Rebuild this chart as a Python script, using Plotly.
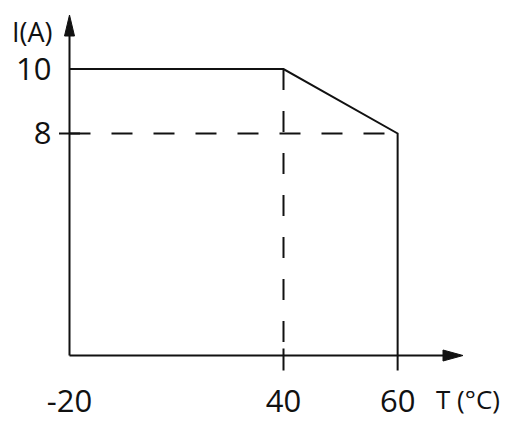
import numpy as np
import plotly.graph_objects as go

# ---------------------------------------------------------
#  derating curve  I(A) vs T(°C)
# ---------------------------------------------------------
T_C = [-20, 40, 60]          # ambient temperature
I_A = [10, 10, 8]            # allowed current
T_KNEE = 40                  # start of derating
I_MIN = 8                    # current at max temperature
X_TICKS = [-20, 40, 60]
Y_TICKS = [8, 10]
X_TITLE = "T (°C)"
Y_TITLE = "I(A)"

# the drawing is schematic: tick spacing is not linear,
# so values are placed on the axes through these anchors
T_ANCHOR, T_DRAW = [-20, 40, 60], [0, 60, 92]
I_ANCHOR, I_DRAW = [0, 8, 10], [0, 8, 10.32]

def sx(t):
    return np.interp(t, T_ANCHOR, T_DRAW)

def sy(i):
    return np.interp(i, I_ANCHOR, I_DRAW)

# page body keeps its default 8px margin -> figure sits at (8, 8)
OFF = 8
W, H = 508 - OFF, 426 - OFF
PX_X = 214 / 60      # px per drawing unit, x
PX_Y = 27.75         # px per drawing unit, y
X0_PX, Y0_PX = 69.5 - OFF, 355.5 - OFF
X_RANGE = [-X0_PX / PX_X, (W - X0_PX) / PX_X]
Y_RANGE = [-(H - Y0_PX) / PX_Y, Y0_PX / PX_Y]

X_TIP = (463 - OFF - X0_PX) / PX_X
Y_TIP = (Y0_PX - (15 - OFF)) / PX_Y
TICK_DOWN = 15 / PX_Y
TICK_UP = 7 / PX_Y
YTICK_HALF = 10.5 / PX_X

FONT = "Open Sans, Lato, sans-serif"
INK = "#111111"
LW = 2
DASH = "21px,21px"

fig = go.Figure()

# axes
fig.add_trace(go.Scatter(x=[0, X_TIP - 4], y=[0, 0], mode="lines",
                         line=dict(color=INK, width=LW)))
fig.add_trace(go.Scatter(x=[0, 0], y=[0, Y_TIP - 0.5], mode="lines",
                         line=dict(color=INK, width=LW)))
# arrow heads
hx, hw = 20 / PX_X, 5.5 / PX_Y
fig.add_trace(go.Scatter(x=[X_TIP, X_TIP - hx, X_TIP - hx, X_TIP],
                         y=[0, hw, -hw, 0], mode="lines", fill="toself",
                         fillcolor=INK, line=dict(color=INK, width=1)))
hy, hv = 21 / PX_Y, 5 / PX_X
fig.add_trace(go.Scatter(x=[0, -hv, hv, 0],
                         y=[Y_TIP, Y_TIP - hy, Y_TIP - hy, Y_TIP], mode="lines",
                         fill="toself", fillcolor=INK, line=dict(color=INK, width=1)))

# tick marks crossing the axes
fig.add_trace(go.Scatter(x=[sx(T_KNEE), sx(T_KNEE)], y=[TICK_UP, -TICK_DOWN],
                         mode="lines", line=dict(color=INK, width=LW)))
fig.add_trace(go.Scatter(x=[-YTICK_HALF, YTICK_HALF], y=[sy(I_MIN), sy(I_MIN)],
                         mode="lines", line=dict(color=INK, width=LW)))

# dashed guides
fig.add_trace(go.Scatter(x=[sx(T_C[0]), sx(T_C[-1])], y=[sy(I_MIN), sy(I_MIN)],
                         mode="lines", line=dict(color=INK, width=LW, dash=DASH)))
fig.add_trace(go.Scatter(x=[sx(T_KNEE), sx(T_KNEE)], y=[sy(max(I_A)), 0],
                         mode="lines", line=dict(color=INK, width=LW, dash=DASH)))

# derating curve, closed down to the axis at max temperature
cx = list(sx(T_C)) + [sx(T_C[-1])]
cy = list(sy(I_A)) + [-TICK_DOWN]
fig.add_trace(go.Scatter(x=cx, y=cy, mode="lines",
                         line=dict(color=INK, width=LW)))

# axis titles
fig.add_annotation(x=sx(T_C[-1]) + 36 / PX_X, y=-43.5 / PX_Y, text=X_TITLE,
                   showarrow=False, xanchor="left", yanchor="middle",
                   font=dict(family=FONT, size=26, color=INK))
fig.add_annotation(x=-60 / PX_X, y=324 / PX_Y, text=Y_TITLE,
                   showarrow=False, xanchor="left", yanchor="middle",
                   font=dict(family=FONT, size=27, color=INK))

fig.update_layout(
    width=W, height=H, autosize=False,
    margin=dict(l=0, r=0, t=0, b=0),
    paper_bgcolor="white", plot_bgcolor="white",
    showlegend=False,
    font=dict(family=FONT, size=31, color=INK),
    xaxis=dict(range=X_RANGE, showgrid=False, zeroline=False, showline=False,
               tickvals=list(sx(X_TICKS)), ticktext=[str(t) for t in X_TICKS],
               ticks="", anchor="free", position=(H - Y0_PX) / H,
               ticklabelstandoff=24, automargin=False, fixedrange=True),
    yaxis=dict(range=Y_RANGE, showgrid=False, zeroline=False, showline=False,
               tickvals=list(sy(Y_TICKS)), ticktext=[str(v) for v in Y_TICKS],
               ticks="", anchor="free", position=X0_PX / W,
               ticklabelstandoff=18, automargin=False, fixedrange=True),
)

fig.write_html("out.html")
